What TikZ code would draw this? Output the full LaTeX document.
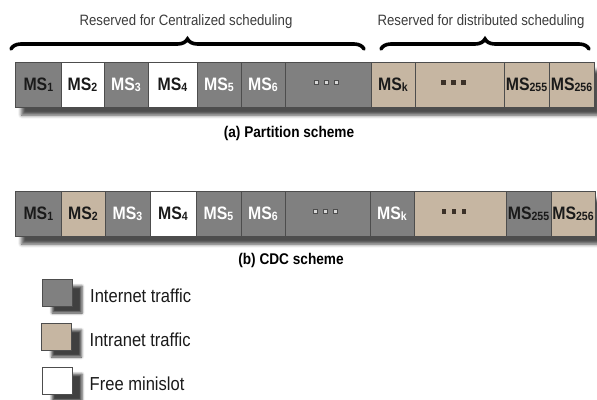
\documentclass[tikz,border=0pt]{standalone}
\usepackage{fontspec}
\setmainfont{Liberation Sans}
\newfontfamily\narrowfont[FakeStretch=0.88]{Liberation Sans}
\usetikzlibrary{decorations.pathreplacing,shadows.blur}

\definecolor{inet}{HTML}{808080}
\definecolor{intra}{HTML}{C6B6A2}
\definecolor{edge}{HTML}{4D4D4D}
\definecolor{ink}{HTML}{1A1A1A}
\definecolor{dotlight}{HTML}{D6D6D6}
\definecolor{dotdark}{HTML}{3B3128}

% minislot label: MS with a small index
\newcommand\mslabel[1]{MS\raisebox{-0.6pt}{\fontsize{12}{12}\selectfont #1}}

\tikzset{
  cell/.style={draw=edge, line width=0.8pt, minimum height=45pt, inner sep=0pt,
    font=\narrowfont\bfseries\fontsize{18}{18}\selectfont, text=ink},
  inetcell/.style={cell, fill=inet},
  intracell/.style={cell, fill=intra},
  freecell/.style={cell, fill=white},
  lighttext/.style={text=white},
  ldot/.style={draw=edge, fill=dotlight, line width=0.5pt, minimum size=3.6pt, inner sep=0pt},
  ddot/.style={fill=dotdark, minimum size=4.2pt, inner sep=0pt},
  barshadow/.style={blur shadow={shadow xshift=6pt, shadow yshift=-8pt,
    shadow blur radius=3.5pt, shadow opacity=70}},
  keyshadow/.style={blur shadow={shadow xshift=10pt, shadow yshift=-7pt,
    shadow blur radius=2.5pt, shadow opacity=75}},
  keybox/.style={draw=edge, line width=0.8pt, minimum width=30pt, minimum height=27pt,
    inner sep=0pt, keyshadow},
  keytext/.style={anchor=base west, inner sep=0pt, text=ink,
    font=\narrowfont\fontsize{18.8}{18.8}\selectfont},
  headtext/.style={anchor=base, inner sep=0pt, text=ink!85,
    font=\narrowfont\fontsize{15}{15}\selectfont},
  captext/.style={anchor=base, inner sep=0pt, text=black,
    font=\narrowfont\bfseries\fontsize{15.5}{15.5}\selectfont},
  bracket/.style={decorate, decoration={brace, amplitude=10pt}, line width=3.6pt,
    line cap=round, black}
}

\begin{document}
\begin{tikzpicture}[x=1pt, y=-1pt]
\useasboundingbox (0,0) rectangle (597,399);

% ---------- headings and braces ----------
\node[headtext] (hc) at (186,25.7) {Reserved for Centralized scheduling};
\node[headtext] (hd) at (481,25.7) {Reserved for distributed scheduling};
\coordinate (bc1) at (11,49);
\coordinate (bc2) at (364,49);
\coordinate (bd1) at (381,49);
\coordinate (bd2) at (589,49);
\draw[bracket] (bc1) -- (bc2);
\draw[bracket] (bd1) -- (bd2);

% ---------- (a) partition scheme ----------
\path[fill=white, barshadow] (15.7,62) rectangle (594,107);
\node[inetcell, minimum width=45.3pt] (a1) at (38.35,84.5) {\mslabel{1}};
\node[freecell, minimum width=43pt] (a2) at (82.5,84.5) {\mslabel{2}};
\node[inetcell, lighttext, minimum width=44pt] (a3) at (126,84.5) {\mslabel{3}};
\node[freecell, minimum width=49pt] (a4) at (172.5,84.5) {\mslabel{4}};
\node[inetcell, lighttext, minimum width=44pt] (a5) at (219,84.5) {\mslabel{5}};
\node[inetcell, lighttext, minimum width=44pt] (a6) at (263,84.5) {\mslabel{6}};
\node[inetcell, minimum width=86pt] (a7) at (328,84.5) {};
\node[intracell, minimum width=44pt] (a8) at (393,84.5) {\mslabel{k}};
\node[intracell, minimum width=89pt] (a9) at (459.5,84.5) {};
\node[intracell, minimum width=45pt] (a10) at (526.5,84.5) {\mslabel{255}};
\node[intracell, minimum width=45pt] (a11) at (571.5,84.5) {\mslabel{256}};
\foreach \dx [count=\i] in {-12,-2,8}
  \node[ldot] (al\i) at ([xshift=\dx pt, yshift=2pt]a7.center) {};
\foreach \dx [count=\i] in {-16,-6,4}
  \node[ddot] (ad\i) at ([xshift=\dx pt, yshift=2pt]a9.center) {};
\node[captext] (capa) at (289,137.5) {(a) Partition scheme};

% ---------- (b) CDC scheme ----------
\path[fill=white, barshadow] (15.7,191) rectangle (595,236);
\node[inetcell, minimum width=45.3pt] (b1) at (38.35,213.5) {\mslabel{1}};
\node[intracell, minimum width=44pt] (b2) at (83,213.5) {\mslabel{2}};
\node[inetcell, lighttext, minimum width=45pt] (b3) at (127.5,213.5) {\mslabel{3}};
\node[freecell, minimum width=46pt] (b4) at (173,213.5) {\mslabel{4}};
\node[inetcell, lighttext, minimum width=45pt] (b5) at (218.5,213.5) {\mslabel{5}};
\node[inetcell, lighttext, minimum width=44pt] (b6) at (263,213.5) {\mslabel{6}};
\node[inetcell, minimum width=85pt] (b7) at (327.5,213.5) {};
\node[inetcell, lighttext, minimum width=44pt] (b8) at (392,213.5) {\mslabel{k}};
\node[intracell, minimum width=92pt] (b9) at (460,213.5) {};
\node[inetcell, minimum width=45pt] (b10) at (528.5,213.5) {\mslabel{255}};
\node[intracell, minimum width=44pt] (b11) at (573,213.5) {\mslabel{256}};
\foreach \dx [count=\i] in {-12,-2,8}
  \node[ldot] (bl\i) at ([xshift=\dx pt, yshift=2pt]b7.center) {};
\foreach \dx [count=\i] in {-16,-6,4}
  \node[ddot] (bd\i) at ([xshift=\dx pt, yshift=2pt]b9.center) {};
\node[captext] (capb) at (291,264) {(b) CDC scheme};

% ---------- legend ----------
\node[keybox, fill=inet] (k1) at (57,292.5) {};
\node[keybox, fill=intra] (k2) at (56.5,336.5) {};
\node[keybox, fill=white] (k3) at (57,380.5) {};
\node[keytext] (t1) at (90,302.3) {Internet traffic};
\node[keytext] (t2) at (89.5,346.7) {Intranet traffic};
\node[keytext] (t3) at (89.5,390) {Free minislot};
\end{tikzpicture}
\end{document}
